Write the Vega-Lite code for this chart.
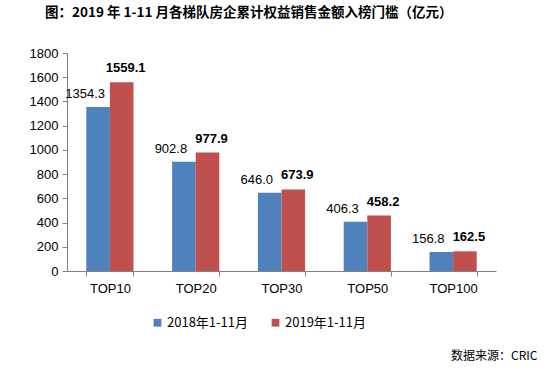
{
  "$schema": "https://vega.github.io/schema/vega-lite/v6.json",
  "width": 429,
  "height": 218,
  "autosize": "none",
  "padding": {"left": 67, "top": 53, "right": 55, "bottom": 99},
  "background": "white",
  "title": {
    "text": "图：2019 年 1-11 月各梯队房企累计权益销售金额入榜门槛（亿元）",
    "anchor": "start",
    "frame": "group",
    "dx": -22,
    "offset": 28,
    "font": "Noto Sans CJK SC",
    "fontSize": 13.5,
    "fontWeight": "bold",
    "color": "#000000"
  },
  "config": {
    "view": {"stroke": null},
    "font": "Liberation Sans"
  },
  "data": {
    "values": [
      {"cat": "TOP10", "series": "2018年1-11月", "value": 1354.3},
      {"cat": "TOP10", "series": "2019年1-11月", "value": 1559.1},
      {"cat": "TOP20", "series": "2018年1-11月", "value": 902.8},
      {"cat": "TOP20", "series": "2019年1-11月", "value": 977.9},
      {"cat": "TOP30", "series": "2018年1-11月", "value": 646.0},
      {"cat": "TOP30", "series": "2019年1-11月", "value": 673.9},
      {"cat": "TOP50", "series": "2018年1-11月", "value": 406.3},
      {"cat": "TOP50", "series": "2019年1-11月", "value": 458.2},
      {"cat": "TOP100", "series": "2018年1-11月", "value": 156.8},
      {"cat": "TOP100", "series": "2019年1-11月", "value": 162.5}
    ]
  },
  "encoding": {
    "x": {
      "field": "cat",
      "type": "nominal",
      "sort": null,
      "scale": {"paddingInner": 0.45, "paddingOuter": 0.225},
      "axis": {
        "title": "数据来源：CRIC",
        "titleFont": "Noto Sans CJK SC",
        "titleFontWeight": "normal",
        "titleFontSize": 12,
        "titleColor": "#000000",
        "titleAnchor": "end",
        "titleAlign": "right",
        "titleBaseline": "middle",
        "titleX": 470,
        "titleY": 84,
        "labelAngle": 0,
        "labelFont": "Liberation Sans",
        "labelFontSize": 13,
        "labelColor": "#000000",
        "labelPadding": 6,
        "tickBand": "extent",
        "tickSize": 5,
        "tickColor": "#808080",
        "domainColor": "#808080",
        "grid": false
      }
    },
    "xOffset": {"field": "series", "type": "nominal", "scale": {"paddingInner": 0, "paddingOuter": 0}},
    "y": {
      "field": "value",
      "type": "quantitative",
      "scale": {"domain": [0, 1800]},
      "axis": {
        "title": null,
        "format": "d",
        "values": [0, 200, 400, 600, 800, 1000, 1200, 1400, 1600, 1800],
        "labelFont": "Liberation Sans",
        "labelFontSize": 13,
        "labelColor": "#000000",
        "labelPadding": 4,
        "tickSize": 5,
        "tickColor": "#808080",
        "domainColor": "#808080",
        "grid": false
      }
    }
  },
  "layer": [
    {
      "mark": {"type": "bar"},
      "encoding": {
        "color": {
          "field": "series",
          "type": "nominal",
          "scale": {"range": ["#4F81BD", "#C0504D"]},
          "legend": {
            "title": null,
            "orient": "none",
            "direction": "horizontal",
            "legendX": 84,
            "legendY": 263,
            "symbolType": "square",
            "symbolSize": 60,
            "symbolStrokeWidth": 0,
            "labelFont": "Noto Sans CJK SC",
            "labelFontSize": 13,
            "labelColor": "#000000",
            "labelOffset": 3,
            "columnPadding": 20
          }
        }
      }
    },
    {
      "transform": [{"filter": "datum.series == '2018年1-11月'"}],
      "mark": {"type": "text", "font": "Liberation Sans", "baseline": "alphabetic", "dy": -9, "dx": -13, "fontSize": 13, "color": "#000000"},
      "encoding": {"text": {"field": "value", "type": "quantitative", "format": ".1f"}}
    },
    {
      "transform": [{"filter": "datum.series == '2019年1-11月'"}],
      "mark": {"type": "text", "font": "Liberation Sans", "baseline": "alphabetic", "dy": -10, "dx": 4, "fontSize": 13, "fontWeight": "bold", "color": "#000000"},
      "encoding": {"text": {"field": "value", "type": "quantitative", "format": ".1f"}}
    }
  ]
}
